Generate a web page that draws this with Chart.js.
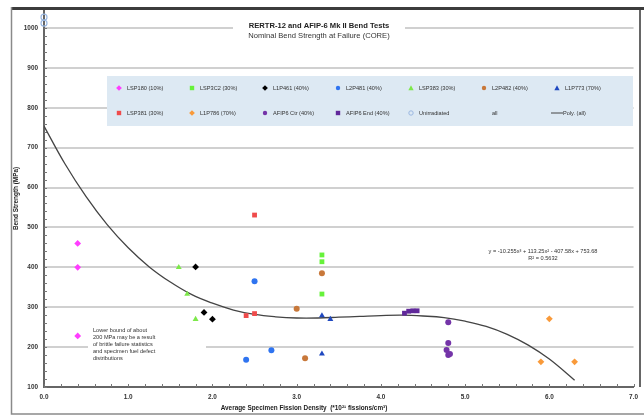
<!DOCTYPE html>
<html>
<head>
<meta charset="utf-8">
<script src="https://cdn.jsdelivr.net/npm/chart.js@4/dist/chart.umd.min.js"></script>
<style>
  html, body { margin: 0; padding: 0; background: #fff; }
  #wrap { width: 644px; height: 416px; }
</style>
</head>
<body>
<div id="wrap"><canvas id="myChart" width="644" height="416"></canvas></div>
<script>
// values
const xLSP180 = [0.4, 0.4, 0.4];
const yLSP180 = [460, 400, 228];
const xLSP3C2 = [3.3, 3.3, 3.3];
const yLSP3C2 = [431, 414, 333];
const xL1P461 = [1.8, 1.9, 2.0];
const yL1P461 = [401, 287, 270];
const xL2P481 = [2.5, 2.4, 2.7];
const yL2P481 = [365, 168, 192];
const xLSP383 = [1.6, 1.7, 1.8];
const yLSP383 = [400, 333, 270];
const xL2P482 = [3.3, 3.0, 3.1];
const yL2P482 = [385, 296, 172];
const xL1P773 = [3.3, 3.4, 3.3];
const yL1P773 = [279, 270, 183];
const xLSP381 = [2.5, 2.4, 2.5];
const yLSP381 = [531, 279, 284];
const xL1P786 = [6.0, 5.9, 6.3];
const yL1P786 = [271, 163, 163];
const xAfipCtr = [4.8, 4.8, 4.78, 4.8, 4.82];
const yAfipCtr = [262, 210, 193, 180, 183];
const xAfipEnd = [4.28, 4.33, 4.38, 4.43];
const yAfipEnd = [285, 290, 291, 291];
const xUnirr = [0, 0];
const yUnirr = [1027, 1012];

// Poly. (all) trend line
const polyX = [0, 0.25, 0.5, 0.75, 1, 1.25, 1.5, 1.75, 2, 2.25, 2.5, 2.75, 3, 3.25, 3.5, 3.75, 4, 4.25, 4.5, 4.75, 5, 5.25, 5.5, 5.75, 6, 6.3];
const polyY = [754, 659, 577, 507, 449, 401, 363, 332, 310, 293, 282, 276, 273, 273, 275, 277, 279, 280, 278, 274, 265, 252, 232, 205, 170, 117];

const xTickLabels = ['0.0', '1.0', '2.0', '3.0', '4.0', '5.0', '6.0', '7.0'];

const titleLines = ['RERTR-12 and AFIP-6 Mk II Bend Tests', 'Nominal Bend Strength at Failure (CORE)'];
const eqLines = ['y = -10.255x\u00b3 + 113.25x\u00b2 - 407.58x + 753.68', 'R\u00b2 = 0.5632'];
const noteLines = ['Lower bound of about', '200 MPa may be a result', 'of brittle failure statistics', 'and specimen fuel defect', 'distributions'];

function pts(xs, ys) {
    return xs.map((x, i) => ({x: x, y: ys[i]}));
}

const series = [
    {label: 'LSP180 (10%)', data: pts(xLSP180, yLSP180), color: '#ff3dff', shape: 'rectRot'},
    {label: 'LSP3C2 (30%)', data: pts(xLSP3C2, yLSP3C2), color: '#66f23a', shape: 'rect'},
    {label: 'L1P461 (40%)', data: pts(xL1P461, yL1P461), color: '#000000', shape: 'rectRot'},
    {label: 'L2P481 (40%)', data: pts(xL2P481, yL2P481), color: '#2f74f0', shape: 'circle'},
    {label: 'LSP383 (30%)', data: pts(xLSP383, yLSP383), color: '#7de84a', shape: 'triangle'},
    {label: 'L2P482 (40%)', data: pts(xL2P482, yL2P482), color: '#c8783a', shape: 'circle'},
    {label: 'L1P773 (70%)', data: pts(xL1P773, yL1P773), color: '#1f48c0', shape: 'triangle'},
    {label: 'LSP381 (30%)', data: pts(xLSP381, yLSP381), color: '#ef4b4b', shape: 'rect'},
    {label: 'L1P786 (70%)', data: pts(xL1P786, yL1P786), color: '#f99a3a', shape: 'rectRot'},
    {label: 'AFIP6 Ctr (40%)', data: pts(xAfipCtr, yAfipCtr), color: '#7434a8', shape: 'circle'},
    {label: 'AFIP6 End (40%)', data: pts(xAfipEnd, yAfipEnd), color: '#60289a', shape: 'rect'},
    {label: 'Unirradiated', data: pts(xUnirr, yUnirr), color: '#9bb8e2', shape: 'circle', hollow: true},
    {label: 'all', data: [], color: 'rgba(0,0,0,0)', shape: 'none'},
    {label: 'Poly. (all)', data: pts(polyX, polyY), color: '#444444', shape: 'line'}
];

const datasets = series.map(s => {
    if (s.shape === 'line') {
        return {
            label: s.label, data: s.data, type: 'line', showLine: true,
            borderColor: s.color, borderWidth: 1.3, pointRadius: 0, tension: 0.4,
            fill: false, order: 2
        };
    }
    return {
        label: s.label, data: s.data, order: 1, clip: false,
        pointStyle: s.shape === 'none' ? false : s.shape,
        pointRadius: s.shape === 'circle' ? 3 : 3.4,
        backgroundColor: s.hollow ? 'rgba(0,0,0,0)' : s.color,
        borderColor: s.color,
        borderWidth: s.hollow ? 1.2 : 0
    };
});

const FONT = '"Liberation Sans", Arial, sans-serif';

function legendMarker(ctx, shape, x, y, color, hollow) {
    const r = 2.2;
    ctx.save();
    ctx.fillStyle = color;
    ctx.strokeStyle = color;
    ctx.lineWidth = 1;
    ctx.beginPath();
    if (shape === 'circle') {
        ctx.arc(x, y, r, 0, Math.PI * 2);
    } else if (shape === 'rect') {
        ctx.rect(x - r, y - r, r * 2, r * 2);
    } else if (shape === 'rectRot') {
        ctx.moveTo(x, y - r * 1.3); ctx.lineTo(x + r * 1.3, y); ctx.lineTo(x, y + r * 1.3); ctx.lineTo(x - r * 1.3, y); ctx.closePath();
    } else if (shape === 'triangle') {
        ctx.moveTo(x, y - r * 1.2); ctx.lineTo(x + r * 1.2, y + r); ctx.lineTo(x - r * 1.2, y + r); ctx.closePath();
    } else if (shape === 'line') {
        ctx.moveTo(x - 6, y); ctx.lineTo(x + 6, y);
        ctx.stroke();
        ctx.restore();
        return;
    } else {
        ctx.restore();
        return;
    }
    if (hollow) ctx.stroke(); else ctx.fill();
    ctx.restore();
}

const decorations = {
    id: 'decorations',
    beforeDatasetsDraw(chart) {
        const ctx = chart.ctx;
        const xs = chart.scales.x, ys = chart.scales.y;
        const a = chart.chartArea;
        ctx.save();
        // minor ticks on the x axis (inside)
        ctx.strokeStyle = '#777';
        ctx.lineWidth = 1;
        for (let v = 0; v <= 7.0001; v += 0.2) {
            const px = Math.round(xs.getPixelForValue(v)) + 0.5;
            ctx.beginPath(); ctx.moveTo(px, a.bottom); ctx.lineTo(px, a.bottom - 3); ctx.stroke();
        }
        // minor ticks on the y axis (inside)
        for (let v = 100; v <= 1000; v += 20) {
            const py = Math.round(ys.getPixelForValue(v)) + 0.5;
            ctx.beginPath(); ctx.moveTo(a.left, py); ctx.lineTo(a.left + 3, py); ctx.stroke();
        }
        // white box behind the note (covers the 200 gridline)
        ctx.fillStyle = '#fff';
        ctx.fillRect(88, 324, 118, 40);
        ctx.fillStyle = '#333';
        ctx.font = '5.6px ' + FONT;
        ctx.textBaseline = 'middle';
        ctx.textAlign = 'left';
        noteLines.forEach((t, i) => ctx.fillText(t, 93, 330 + i * 7));
        // trend line equation
        ctx.textAlign = 'center';
        eqLines.forEach((t, i) => ctx.fillText(t, 543, 251 + i * 7.5));
        ctx.restore();
    },
    afterDatasetsDraw(chart) {
        const ctx = chart.ctx;
        const a = chart.chartArea;
        ctx.save();
        // legend box inside the plot
        const lx = 107, ly = 76, lw = 526, lh = 50;
        ctx.fillStyle = '#dde9f3';
        ctx.fillRect(lx, ly, lw, lh);
        ctx.font = '5.6px ' + FONT;
        ctx.textBaseline = 'middle';
        ctx.textAlign = 'left';
        series.forEach((s, i) => {
            const col = i % 7, row = Math.floor(i / 7);
            const mx = 119 + col * 73, my = row === 0 ? 88 : 113;
            legendMarker(ctx, s.shape, mx, my, s.color, s.hollow);
            ctx.fillStyle = '#333';
            ctx.fillText(s.label, s.shape === 'line' ? mx + 6 : mx + 8, my);
        });
        // chart title with white backing
        ctx.fillStyle = '#fff';
        ctx.fillRect(233, 19, 172, 22);
        ctx.fillStyle = '#222';
        ctx.textAlign = 'center';
        ctx.font = 'bold 7.6px ' + FONT;
        ctx.fillText(titleLines[0], 319, 26);
        ctx.fillStyle = '#333';
        ctx.font = '7.6px ' + FONT;
        ctx.fillText(titleLines[1], 319, 35.5);
        // x axis title
        ctx.fillStyle = '#222';
        ctx.font = 'bold 6.4px ' + FONT;
        ctx.fillText('Average Specimen Fission Density  (*10\u00b2\u00b9 fissions/cm\u00b3)', 304, 408);
        // frame
        ctx.fillStyle = '#3c3c3c';
        ctx.fillRect(11, 7, 633, 3);
        ctx.strokeStyle = '#8a8a8a';
        ctx.lineWidth = 1.5;
        ctx.beginPath(); ctx.moveTo(11.5, 7); ctx.lineTo(11.5, 414); ctx.lineTo(644, 414); ctx.stroke();
        ctx.strokeStyle = '#666';
        ctx.lineWidth = 2;
        ctx.beginPath(); ctx.moveTo(640, 10); ctx.lineTo(640, a.bottom); ctx.stroke();
        ctx.restore();
    }
};

new Chart(document.getElementById('myChart'), {
    type: 'scatter',
    data: {datasets: datasets},
    options: {
        responsive: false,
        animation: false,
        devicePixelRatio: 1,
        layout: {padding: {left: 0, right: 4, top: 10, bottom: 0}},
        plugins: {
            legend: {display: false},
            tooltip: {enabled: false},
            title: {display: false}
        },
        scales: {
            x: {
                type: 'linear', min: 0, max: 7,
                afterFit: s => { s.height = 29; },
                grid: {display: false, drawTicks: false},
                border: {display: true, color: '#666', width: 2},
                ticks: {
                    stepSize: 1, autoSkip: false, padding: 6, maxRotation: 0,
                    color: '#333', font: {family: FONT, size: 6.4, weight: 'bold'},
                    callback: (v) => {
                        const i = Math.round(v);
                        return Math.abs(v - i) < 1e-6 ? xTickLabels[i] : '';
                    }
                }
            },
            y: {
                type: 'linear', min: 100, max: 1045,
                afterFit: s => { s.width = 44; },
                afterBuildTicks: s => { s.ticks = s.ticks.filter(t => t.value % 100 === 0 && t.value <= 1000); },
                grid: {color: '#d0d0d0', lineWidth: 2, drawTicks: false},
                border: {display: true, color: '#666', width: 2},
                ticks: {
                    stepSize: 100, padding: 6,
                    color: '#333', font: {family: FONT, size: 6.4, weight: 'bold'},
                    callback: (v) => String(v)
                },
                title: {
                    display: true, text: 'Bend Strength (MPa)',
                    color: '#222', font: {family: FONT, size: 6.4, weight: 'bold'},
                    padding: {top: 12, bottom: 0}
                }
            }
        }
    },
    plugins: [decorations]
});
</script>
</body>
</html>
